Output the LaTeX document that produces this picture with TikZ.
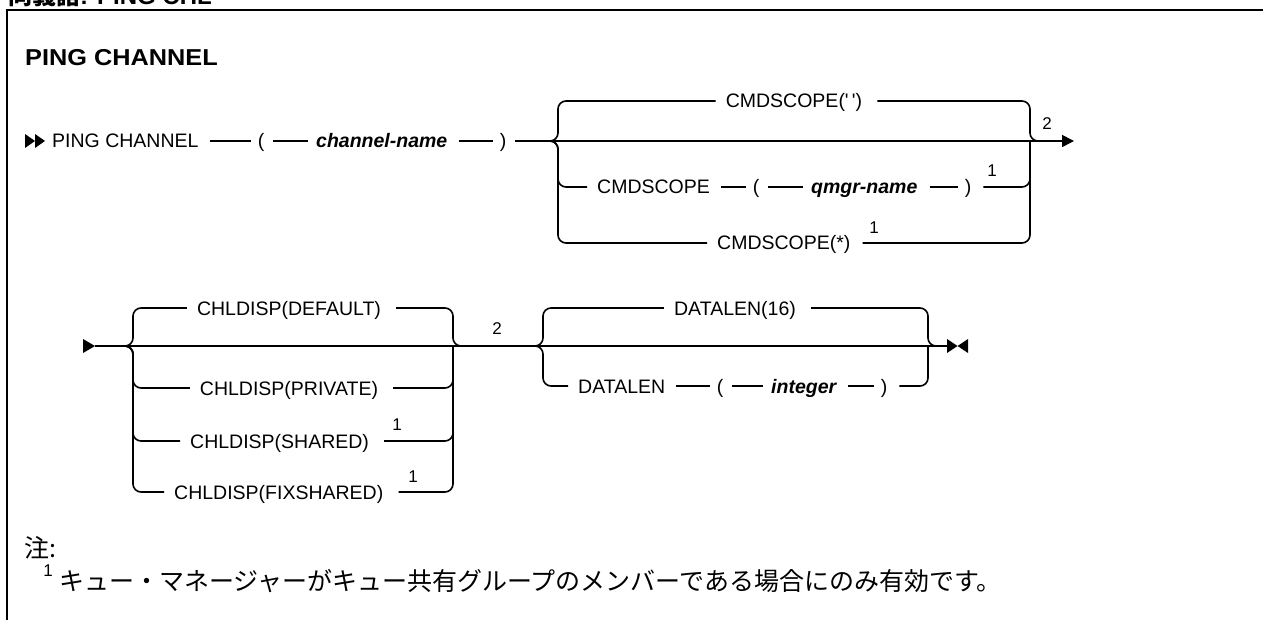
\documentclass[tikz,border=0pt]{standalone}
\usepackage{fontspec}
\setmainfont{Liberation Sans}
\newfontfamily\cjk{Noto Sans CJK JP}
\usetikzlibrary{calc,arrows.meta}
\begin{document}
\begin{tikzpicture}[x=1pt,y=-1pt,
  ln/.style={line width=1.6pt},
  rc/.style={line width=1.6pt, rounded corners=8pt},
  lbl/.style={font=\fontsize{19.5}{22}\selectfont, inner sep=0pt, text height=14pt, text depth=0pt},
  var/.style={lbl, font=\fontsize{19.5}{22}\selectfont\bfseries\itshape},
  sup/.style={font=\fontsize{17}{18}\selectfont, inner sep=0pt},
  jp/.style={font=\cjk\fontsize{25}{27}\selectfont, inner sep=0pt}]
\useasboundingbox (0,0) rectangle (1263,620);

% frame and headings
\draw[line width=2.2pt] (1263,10) -- (7,10) -- (7,620);
\node[anchor=base west, inner sep=0pt, font=\fontsize{24}{26}\selectfont\bfseries] (syn) at (8,5) {{\cjk 同義語}: PING CHL};
\node[anchor=west, inner sep=0pt, font=\fontsize{23}{26}\selectfont\bfseries\addfontfeature{FakeStretch=1.1}] (title) at (25,57.5) {PING CHANNEL};

% ---------- row 1 ----------
\fill (25,134) -- (35,141) -- (25,148) -- cycle;
\fill (35,134) -- (45,141) -- (35,148) -- cycle;
\node[lbl,anchor=west] (ping) at (52,141) {PING CHANNEL};
\node[lbl] (lpa) at (261,141) {(};
\node[var,anchor=west] (chn) at (316,141) {channel-name};
\node[lbl] (rpa) at (503,141) {)};
\draw[ln] ([xshift=11pt]ping.east) -- ([xshift=-7pt]lpa.west);
\draw[ln] ([xshift=9pt]lpa.east) -- ([xshift=-8pt]chn.west);
\draw[ln] ([xshift=11pt]chn.east) -- ([xshift=-7pt]rpa.west);
\coordinate (e1) at (1074,141);
\draw[ln,-{Triangle[length=12pt,width=12pt]}] ([xshift=9pt]rpa.east) -- (e1);
\node[sup] (n2a) at (1047,124) {2};

% CMDSCOPE choice  (left 558, right 1030)
\node[lbl] (o11) at (794,101) {CMDSCOPE(\textquotesingle\,\textquotesingle)};
\draw[rc] (538,141) -| (558,101) -- ([xshift=-10pt]o11.west);
\draw[rc] ([xshift=15pt]o11.east) -| (1030,141) -- (1050,141);

\node[lbl,anchor=west] (cmd2) at (597,187) {CMDSCOPE};
\node[lbl] (lpb) at (756,187) {(};
\node[var,anchor=west] (qm) at (811,187) {qmgr-name};
\node[lbl] (rpb) at (968,187) {)};
\node[sup] (n1a) at (992,171) {1};
\draw[rc] (538,141) -| (558,187) -- ([xshift=-10pt]cmd2.west);
\draw[ln] ([xshift=11pt]cmd2.east) -- ([xshift=-7pt]lpb.west);
\draw[ln] ([xshift=9pt]lpb.east) -- ([xshift=-8pt]qm.west);
\draw[ln] ([xshift=12pt]qm.east) -- ([xshift=-7pt]rpb.west);
\draw[rc] ([xshift=12pt]rpb.east) -| (1030,141);

\node[lbl,anchor=west] (cs3) at (717,243) {CMDSCOPE(*)};
\node[sup] (n1b) at (874,228) {1};
\draw[rc] (538,141) -| (558,243) -- ([xshift=-10pt]cs3.west);
\draw[rc] ([xshift=12pt]cs3.east) -| (1030,141);

% ---------- row 2 ----------
\fill (83,339) -- (95,346) -- (83,353) -- cycle;
\coordinate (s2) at (95,346);
\coordinate (e2) at (947,346);
\draw[ln] (s2) -- (e2);
\fill (947,339) -- (957.5,346) -- (947,353) -- cycle;
\fill (968,339) -- (957.5,346) -- (968,353) -- cycle;
\node[sup] (n2b) at (497,329) {2};

% CHLDISP choice (left 133, right 453)
\node[lbl] (d1) at (289,308) {CHLDISP(DEFAULT)};
\draw[rc] (113,346) -| (133,308) -- ([xshift=-10pt]d1.west);
\draw[rc] ([xshift=15pt]d1.east) -| (453,346) -- (473,346);

\node[lbl] (d2) at (289,388) {CHLDISP(PRIVATE)};
\draw[rc] (113,346) -| (133,388) -- ([xshift=-10pt]d2.west);
\draw[rc] ([xshift=15pt]d2.east) -| (453,346);

\node[lbl,anchor=west] (d3) at (190,441) {CHLDISP(SHARED)};
\node[sup] (n1c) at (397,425) {1};
\draw[rc] (113,346) -| (133,441) -- ([xshift=-10pt]d3.west);
\draw[rc] ([xshift=15pt]d3.east) -| (453,346);

\node[lbl,anchor=west] (d4) at (174,492) {CHLDISP(FIXSHARED)};
\node[sup] (n1d) at (413,477) {1};
\draw[rc] (113,346) -| (133,492) -- ([xshift=-10pt]d4.west);
\draw[rc] ([xshift=15pt]d4.east) -| (453,346);

% DATALEN choice (left 543, right 928)
\node[lbl] (dl1) at (735,308) {DATALEN(16)};
\draw[rc] (523,346) -| (543,308) -- ([xshift=-10pt]dl1.west);
\draw[rc] ([xshift=15pt]dl1.east) -| (928,346) -- (946,346);

\node[lbl,anchor=west] (dl2) at (578,386) {DATALEN};
\node[lbl] (lpc) at (720,386) {(};
\node[var,anchor=west] (int) at (771,386) {integer};
\node[lbl] (rpc) at (884,386) {)};
\draw[rc] (523,346) -| (543,386) -- ([xshift=-10pt]dl2.west);
\draw[ln] ([xshift=11pt]dl2.east) -- ([xshift=-7pt]lpc.west);
\draw[ln] ([xshift=9pt]lpc.east) -- ([xshift=-8pt]int.west);
\draw[ln] ([xshift=12pt]int.east) -- ([xshift=-7pt]rpc.west);
\draw[rc] ([xshift=12pt]rpc.east) -| (928,346);

% ---------- notes ----------
\node[jp,anchor=west] (note) at (24,548) {注:};
\node[sup] (fn1) at (48,571) {1};
\node[jp,anchor=west] (fn) at (59,581) {キュー・マネージャーがキュー共有グループのメンバーである場合にのみ有効です。};
\end{tikzpicture}
\end{document}
